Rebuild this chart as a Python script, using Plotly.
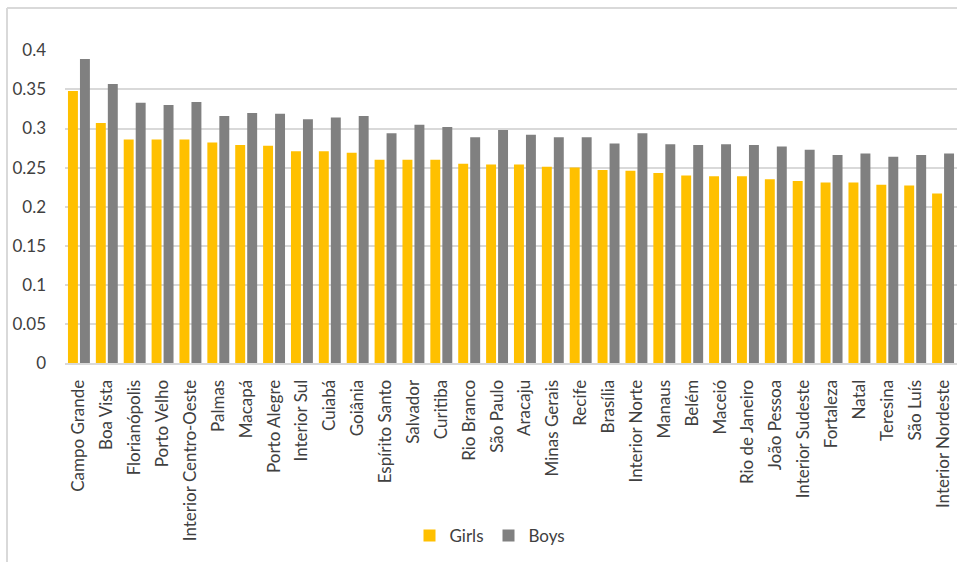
import plotly.graph_objects as go

# Cities / regions, ordered by the girls' value
categories = [
    "Campo Grande", "Boa Vista", "Florianópolis", "Porto Velho",
    "Interior Centro-Oeste", "Palmas", "Macapá", "Porto Alegre",
    "Interior Sul", "Cuiabá", "Goiânia", "Espírito Santo", "Salvador",
    "Curitiba", "Rio Branco", "São Paulo", "Aracaju", "Minas Gerais",
    "Recife", "Brasília", "Interior Norte", "Manaus", "Belém", "Maceió",
    "Rio de Janeiro", "João Pessoa", "Interior Sudeste", "Fortaleza",
    "Natal", "Teresina", "São Luís", "Interior Nordeste",
]

girls = [
    0.348, 0.307, 0.286, 0.286, 0.286, 0.282, 0.279, 0.278,
    0.271, 0.271, 0.269, 0.260, 0.260, 0.260, 0.255, 0.254,
    0.254, 0.251, 0.250, 0.247, 0.246, 0.243, 0.240, 0.239,
    0.239, 0.235, 0.233, 0.231, 0.231, 0.228, 0.227, 0.217,
]

boys = [
    0.389, 0.357, 0.333, 0.330, 0.334, 0.316, 0.320, 0.319,
    0.312, 0.314, 0.316, 0.294, 0.305, 0.302, 0.289, 0.298,
    0.292, 0.289, 0.289, 0.281, 0.294, 0.280, 0.279, 0.280,
    0.279, 0.277, 0.273, 0.266, 0.268, 0.264, 0.266, 0.268,
]

y_ticks = [0, 0.05, 0.1, 0.15, 0.2, 0.25, 0.3, 0.35, 0.4]
y_tick_text = ["0", "0.05", "0.1", "0.15", "0.2", "0.25", "0.3", "0.35", "0.4"]

FONT = "Lato, 'Open Sans', sans-serif"
TEXT = "#404040"
GRID = "#d9d9d9"
FS = 17

fig = go.Figure()
fig.add_trace(go.Bar(name="Girls", x=categories, y=girls,
                     marker=dict(color="#FFC000", line=dict(width=0))))
fig.add_trace(go.Bar(name="Boys", x=categories, y=boys,
                     marker=dict(color="#808080", line=dict(width=0))))

W, H = 957, 562
L, R, T, B = 65, 0, 50, 199
plot_w = W - L - R
plot_h = H - T - B

def px_to_paper_x(px):
    return (px - L) / plot_w

def px_to_paper_y(py):
    return (H - B - py) / plot_h

fig.update_layout(
    width=W, height=H,
    margin=dict(l=L, r=R, t=T, b=B, pad=0),
    paper_bgcolor="white", plot_bgcolor="white",
    barmode="group", bargap=0.14, bargroupgap=0.17,
    font=dict(family=FONT, size=FS, color=TEXT),
    legend=dict(
        orientation="h", x=px_to_paper_x(490), xanchor="center",
        y=px_to_paper_y(536), yanchor="middle",
        font=dict(family=FONT, size=FS, color=TEXT),
        itemwidth=30, traceorder="normal",
    ),
    xaxis=dict(
        tickangle=-90, showgrid=False, showline=True,
        linecolor=GRID, linewidth=2, ticks="",
        tickfont=dict(family=FONT, size=FS, color=TEXT),
        ticklabelstandoff=8,
    ),
    yaxis=dict(
        range=[0, 0.4005], tickvals=y_ticks, ticktext=y_tick_text,
        showgrid=True, gridcolor=GRID, gridwidth=2,
        zeroline=False, showline=False, ticks="",
        tickfont=dict(family=FONT, size=FS, color=TEXT),
        ticklabelstandoff=18,
    ),
    shapes=[
        # chart frame (top and left edges visible)
        dict(type="line", xref="paper", yref="paper",
             x0=px_to_paper_x(7), x1=px_to_paper_x(W + 5),
             y0=px_to_paper_y(8), y1=px_to_paper_y(8),
             line=dict(color=GRID, width=2)),
        dict(type="line", xref="paper", yref="paper",
             x0=px_to_paper_x(7), x1=px_to_paper_x(7),
             y0=px_to_paper_y(8), y1=px_to_paper_y(H + 5),
             line=dict(color=GRID, width=2)),
    ],
)

fig.write_html("out.html")
